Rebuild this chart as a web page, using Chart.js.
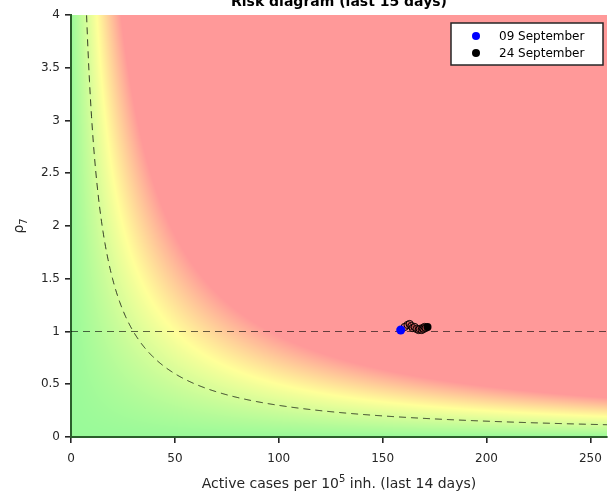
<!DOCTYPE html>
<html><head><meta charset="utf-8">
<script src="https://cdn.jsdelivr.net/npm/chart.js@4/dist/chart.umd.min.js"></script>
<style>html,body{margin:0;padding:0;background:#fff;overflow:hidden}#wrap{position:relative;width:616px;height:493px}</style>
</head><body><div id="wrap"><canvas id="c" width="616" height="493"></canvas></div>
<script>
// ---- data ----
const dates = ['09 September','10 September','11 September','12 September','13 September','14 September','15 September','16 September','17 September','18 September','19 September','20 September','21 September','22 September','23 September','24 September'];
const activeCases = [158.7,160.6,162.0,163.0,163.9,164.4,165.4,166.3,167.3,167.8,168.8,169.2,169.7,170.2,170.7,171.6];
const rho7 = [1.014,1.043,1.062,1.071,1.052,1.033,1.043,1.024,1.014,1.024,1.014,1.033,1.024,1.043,1.033,1.043];
const xTicks = [0,50,100,150,200,250];
const yTicks = [0,0.5,1,1.5,2,2.5,3,3.5,4];
const xRange = [0,258];
const yRange = [0,4];
const riskLevels = [30];          // dashed iso-risk curve (cases x rho)
const referenceRho = [1];         // dashed horizontal line
const titleText = 'Risk diagram (last 15 days)';

const FONT = "'DejaVu Sans', sans-serif";
const pts = activeCases.map((v,i)=>({x:v,y:rho7[i]}));
const last = pts.length-1;

// background risk map green -> yellow -> red by cases*rho
const stops = [[0,[153,250,153]],[50,[255,255,153]],[96,[255,153,153]]];
function colourFor(e){
  if(e<=stops[0][0]) return stops[0][1];
  for(let k=1;k<stops.length;k++){
    if(e<=stops[k][0]){
      const [e0,c0]=stops[k-1],[e1,c1]=stops[k];
      const t=(e-e0)/(e1-e0);
      return [c0[0]+(c1[0]-c0[0])*t,c0[1]+(c1[1]-c0[1])*t,c0[2]+(c1[2]-c0[2])*t];
    }
  }
  return stops[stops.length-1][1];
}

const heatmap = {
  id:'heatmap',
  beforeDraw(chart){
    const {ctx, chartArea:a, scales:{x,y}} = chart;
    const w=Math.round(a.right-a.left), h=Math.round(a.bottom-a.top);
    const off=document.createElement('canvas'); off.width=w; off.height=h;
    const octx=off.getContext('2d'); const img=octx.createImageData(w,h);
    for(let j=0;j<h;j++){
      const yv=y.getValueForPixel(a.top+j+0.5);
      for(let i=0;i<w;i++){
        const xv=x.getValueForPixel(a.left+i+0.5);
        const c=colourFor(xv*yv); const p=(j*w+i)*4;
        img.data[p]=c[0];img.data[p+1]=c[1];img.data[p+2]=c[2];img.data[p+3]=255;
      }
    }
    octx.putImageData(img,0,0);
    ctx.drawImage(off,a.left,a.top);
  }
};

const refLines = {
  id:'refLines',
  beforeDatasetsDraw(chart){
    const {ctx, chartArea:a, scales:{x,y}} = chart;
    ctx.save();
    ctx.beginPath(); ctx.rect(a.left,a.top,a.right-a.left,a.bottom-a.top); ctx.clip();
    ctx.lineWidth=1; ctx.setLineDash([7,5]);
    ctx.strokeStyle='rgba(0,0,0,0.6)';
    referenceRho.forEach(r=>{
      const py=y.getPixelForValue(r);
      ctx.beginPath(); ctx.moveTo(a.left,py); ctx.lineTo(a.right,py); ctx.stroke();
    });
    ctx.strokeStyle='rgba(0,0,0,0.75)';
    riskLevels.forEach(L=>{
      ctx.beginPath(); let started=false;
      for(let px=a.left;px<=a.right;px+=0.5){
        const xv=x.getValueForPixel(px); if(xv<=0) continue;
        const py=y.getPixelForValue(L/xv);
        if(py<a.top-50) continue;
        if(!started){ctx.moveTo(px,py);started=true;} else ctx.lineTo(px,py);
      }
      ctx.stroke();
    });
    ctx.restore();
  }
};

const texts = {
  id:'texts',
  afterDraw(chart){
    const {ctx, chartArea:a} = chart;
    ctx.save();
    // title
    ctx.fillStyle='#000'; ctx.font="bold 14px "+FONT; ctx.textAlign='center'; ctx.textBaseline='alphabetic';
    ctx.fillText(titleText,(a.left+a.right)/2,6);
    // x title with superscript
    ctx.fillStyle='#262626';
    const p1='Active cases per 10', sup='5', p2=' inh. (last 14 days)';
    ctx.font="14px "+FONT; const w1=ctx.measureText(p1).width, w3=ctx.measureText(p2).width;
    ctx.font="10px "+FONT; const w2=ctx.measureText(sup).width;
    let sx=(a.left+a.right)/2-(w1+w2+w3)/2; const by=488;
    ctx.textAlign='left';
    ctx.font="14px "+FONT; ctx.fillText(p1,sx,by);
    ctx.font="10px "+FONT; ctx.fillText(sup,sx+w1,by-6);
    ctx.font="14px "+FONT; ctx.fillText(p2,sx+w1+w2,by);
    // y title rho_7
    ctx.translate(23,(a.top+a.bottom)/2); ctx.rotate(-Math.PI/2);
    ctx.font="14px "+FONT; const wr=ctx.measureText('ρ').width;
    ctx.font="10px "+FONT; const ws=ctx.measureText('7').width;
    const s0=-(wr+ws)/2;
    ctx.font="14px "+FONT; ctx.fillText('ρ',s0,0);
    ctx.font="10px "+FONT; ctx.fillText('7',s0+wr,4);
    ctx.restore();
    // legend
    ctx.save();
    const lx=451, ly=23, lw=152, lh=42;
    ctx.fillStyle='#fff'; ctx.fillRect(lx,ly,lw,lh);
    ctx.strokeStyle='#262626'; ctx.lineWidth=1.5; ctx.strokeRect(lx,ly,lw,lh);
    const ds=chart.data.datasets;
    const items=[ds[0],ds[2]];
    ctx.font="12px "+FONT; ctx.textBaseline='middle'; ctx.textAlign='left';
    items.forEach((d,k)=>{
      const cy=ly+13+k*17;
      ctx.beginPath(); ctx.arc(lx+25,cy,4,0,Math.PI*2); ctx.fillStyle=d.backgroundColor; ctx.fill();
      ctx.fillStyle='#000'; ctx.fillText(d.label,lx+48,cy+1);
    });
    ctx.restore();
  }
};

const axisCommon = {
  grid:{display:true,drawOnChartArea:false,drawTicks:true,tickLength:6,color:'#262626',lineWidth:1.6},
  border:{display:true,color:'#2b5f2b',width:2},
};

new Chart(document.getElementById('c'),{
  type:'scatter',
  data:{datasets:[
    {label:dates[0],data:[pts[0]],backgroundColor:'#0000ff',borderColor:'#0000ff',pointRadius:4.5,pointBorderWidth:0,order:1},
    {label:'intermediate',data:pts.slice(1,last),backgroundColor:'rgba(200,80,80,0.4)',borderColor:'#000',pointRadius:3.6,pointBorderWidth:1,order:3},
    {label:dates[last],data:[pts[last]],backgroundColor:'#000',borderColor:'#000',pointRadius:4,pointBorderWidth:0,order:2}
  ]},
  options:{
    responsive:false,animation:false,devicePixelRatio:1,
    layout:{padding:{left:0,top:15,right:9,bottom:0}},
    plugins:{legend:{display:false},tooltip:{enabled:false},title:{display:false}},
    scales:{
      x:{type:'linear',min:xRange[0],max:xRange[1],...axisCommon,
        afterBuildTicks(s){s.ticks=xTicks.map(v=>({value:v}));},
        afterFit(s){s.height=56;},
        ticks:{font:{family:FONT,size:12},color:'#262626',padding:9,maxRotation:0,callback:v=>String(v)}},
      y:{type:'linear',min:yRange[0],max:yRange[1],...axisCommon,
        afterBuildTicks(s){s.ticks=yTicks.map(v=>({value:v}));},
        afterFit(s){s.width=71;},
        ticks:{font:{family:FONT,size:12},color:'#262626',padding:5,callback:v=>String(v)}}
    }
  },
  plugins:[heatmap,refLines,texts]
});
</script></body></html>
